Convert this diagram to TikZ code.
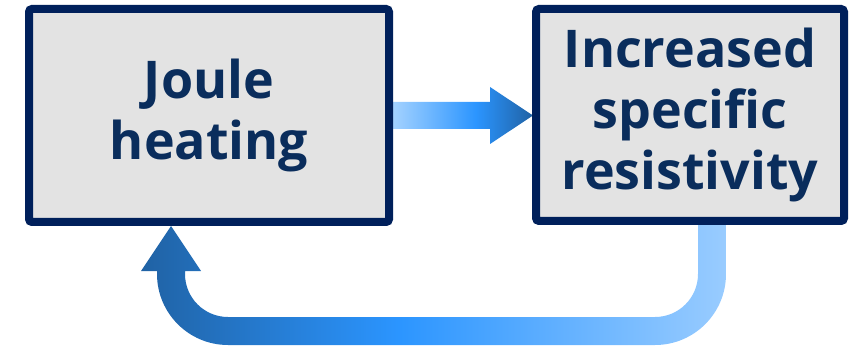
\documentclass[tikz,border=0pt]{standalone}
\usepackage{fontspec}
\setmainfont{Open Sans}
\usetikzlibrary{calc}
\definecolor{boxfill}{HTML}{E3E3E3}
\definecolor{boxline}{HTML}{00205B}
\definecolor{txt}{HTML}{0A2D5C}
\definecolor{arlight}{HTML}{A8D4FF}
\definecolor{armid}{HTML}{2B95FF}
\definecolor{ardark}{HTML}{2062A4}
\definecolor{arlight2}{HTML}{99CCFF}
\pgfdeclarehorizontalshading{topar}{100bp}{color(0bp)=(arlight); color(25bp)=(arlight); color(55bp)=(armid); color(75bp)=(ardark); color(100bp)=(ardark)}
\pgfdeclarehorizontalshading{botar}{100bp}{color(0bp)=(ardark); color(25bp)=(ardark); color(47bp)=(armid); color(75bp)=(arlight2); color(100bp)=(arlight2)}
\tikzset{
  box/.style={draw=boxline, fill=boxfill, line width=8pt, rounded corners=3pt,
    inner sep=0pt, align=center, text=txt,
    font=\fontsize{52}{61}\selectfont\bfseries},
  arrowshape/.style={draw=none}
}
\begin{document}
\begin{tikzpicture}[x=1pt,y=-1pt]
\useasboundingbox (0,0) rectangle (853,347);
% connectors (drawn below the boxes)
\shade[arrowshape, shading=topar]
  (390,102) -- (490,102) -- (490,87) -- (533,115.5) -- (490,144) -- (490,129) -- (390,129) -- cycle;
\shade[arrowshape, shading=botar]
  (726,220) -- (726,274) arc[start angle=0, end angle=90, radius=71]
  -- (228,345) arc[start angle=90, end angle=180, radius=71]
  -- (157,271) -- (141,271) -- (171,226) -- (201,271) -- (185,271)
  -- (185,274) arc[start angle=180, end angle=90, radius=43]
  -- (655,317) arc[start angle=90, end angle=0, radius=43]
  -- (698,220) -- cycle;
% boxes
\node[box, minimum width=360pt, minimum height=213pt] (jh) at (209,115.5) {Joule\\heating};
\node[box, minimum width=308pt, minimum height=212pt] (isr) at (690,115) {Increased\\specific\\resistivity};
\end{tikzpicture}
\end{document}
